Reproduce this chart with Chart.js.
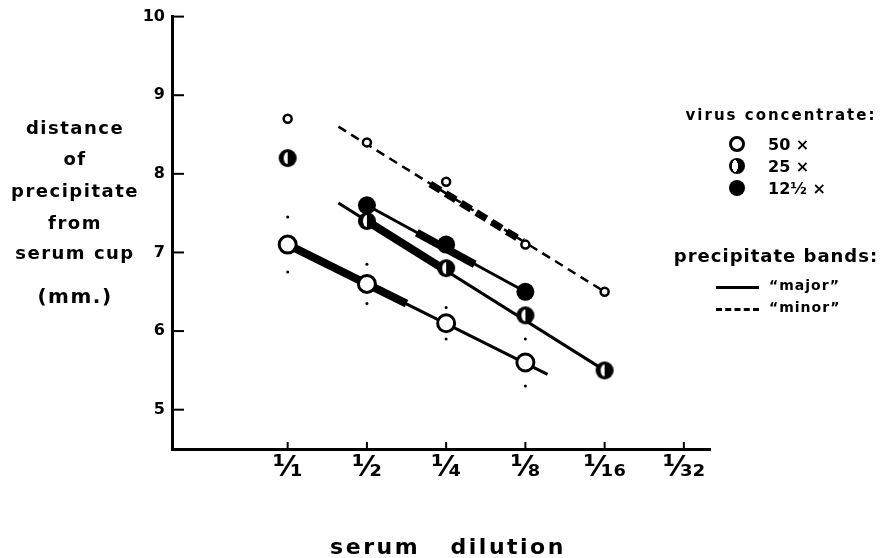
<!DOCTYPE html>
<html>
<head>
<meta charset="utf-8">
<script src="https://cdn.jsdelivr.net/npm/chart.js@4.4.1/dist/chart.umd.min.js"></script>
<style>
  body { margin: 0; background: #fff; }
  #wrap { position: relative; width: 883px; height: 558px; font-family: "DejaVu Sans", sans-serif; font-weight: bold; color: #000; }
  canvas { position: absolute; left: 0; top: 0; }
  .t { position: absolute; white-space: nowrap; transform: translate(-50%, -50%); }
  .l { position: absolute; white-space: nowrap; transform: translateY(-50%); }
  .ylab { font-size: 18px; letter-spacing: 1.5px; }
  .sym { position: absolute; width: 16px; height: 16px; border-radius: 50%; box-sizing: border-box; transform: translate(-50%, -50%); }
</style>
</head>
<body>
<div id="wrap">
  <canvas id="chart" width="883" height="558"></canvas>

  <div class="t ylab" style="left:75px;top:127px">distance</div>
  <div class="t ylab" style="left:75px;top:158px">of</div>
  <div class="t ylab" style="left:75px;top:190px">precipitate</div>
  <div class="t ylab" style="left:75px;top:222px">from</div>
  <div class="t ylab" style="left:75px;top:252px">serum cup</div>
  <div class="t ylab" style="left:75px;top:296px;font-size:20px">(mm.)</div>

  <div class="t" style="left:781px;top:115px;font-size:15px;letter-spacing:2px">virus concentrate:</div>
  <div class="sym" style="left:737px;top:144px;border:3px solid #000;background:#fff"></div>
  <div class="sym" style="left:737px;top:166px;background:radial-gradient(ellipse 3px 6px at 6px 8px,#fff 98%,transparent 100%),#000"></div>
  <div class="sym" style="left:737px;top:188px;background:#000"></div>
  <div class="l" style="left:768px;top:144px;font-size:16px">50 ×</div>
  <div class="l" style="left:768px;top:166px;font-size:16px">25 ×</div>
  <div class="l" style="left:768px;top:188px;font-size:16px">12½ ×</div>

  <div class="t" style="left:776px;top:255px;font-size:18px;letter-spacing:1px">precipitate bands:</div>
  <div style="position:absolute;left:716px;top:286px;width:43px;height:3px;background:#000"></div>
  <div style="position:absolute;left:716px;top:308px;width:43px;height:0;border-top:3px dashed #000"></div>
  <div class="l" style="left:769px;top:285px;font-size:14px;letter-spacing:1px">“major”</div>
  <div class="l" style="left:769px;top:307px;font-size:14px;letter-spacing:1px">“minor”</div>

  <div class="t" style="left:448px;top:546px;font-size:22px;letter-spacing:2.5px">serum&nbsp;&nbsp;&nbsp;dilution</div>
</div>
<script>
// x positions are dilution steps: 0 = 1/1, 1 = 1/2, ... 5 = 1/32
const xTickValues = [0, 1, 2, 3, 4, 5];
const xTickLabels = ["¹⁄₁", "¹⁄₂", "¹⁄₄", "¹⁄₈", "¹⁄₁₆", "¹⁄₃₂"];
const yTickValues = [5, 6, 7, 8, 9, 10];

// 50x concentrate (open circles), major band, with the small range dots
const x50 = [0, 1, 2, 3];
const y50 = [7.1, 6.6, 6.1, 5.6];
const y50High = [7.45, 6.85, 6.3, 5.9];
const y50Low = [6.75, 6.35, 5.9, 5.3];

// 25x concentrate (half circles)
const x25 = [0, 1, 2, 3, 4];
const y25 = [8.2, 7.4, 6.8, 6.2, 5.5];

// 12 1/2 x concentrate (filled circles)
const x12 = [1, 2, 3];
const y12 = [7.6, 7.1, 6.5];

// minor band points (small open circles)
const xMinor = [0, 1, 2, 3, 4];
const yMinor = [8.7, 8.4, 7.9, 7.1, 6.5];

// fitted band lines, [x, y] ends
const line50 = [[0, 7.1], [3.28, 5.45]];
const heavy50 = [[0, 7.1], [1.5, 6.35]];
const line25 = [[0.64, 7.63], [4, 5.5]];
const heavy25 = [[1, 7.4], [2, 6.77]];
const line12 = [[1, 7.6], [3, 6.5]];
const heavy12 = [[1.63, 7.25], [2.36, 6.85]];
const lineMinor = [[0.64, 8.6], [4, 6.5]];
const heavyMinor = [[1.8, 7.87], [2.97, 7.14]];

const pts = (xs, ys) => xs.map((x, i) => ({ x: x, y: ys[i] }));
const seg = (s) => s.map(([x, y]) => ({ x: x, y: y }));

// half-filled marker: black disc with a white sliver left of centre
const half = document.createElement("canvas");
half.width = 20; half.height = 20;
(function () {
  const c = half.getContext("2d");
  c.fillStyle = "#000";
  c.beginPath(); c.arc(10, 10, 9, 0, Math.PI * 2); c.fill();
  c.fillStyle = "#fff";
  c.beginPath(); c.ellipse(10, 10, 4, 6, 0, Math.PI / 2, Math.PI * 1.5); c.closePath(); c.fill();
})();

function lineDs(data, width, dash) {
  return {
    data: data, showLine: true, borderColor: "#000", borderWidth: width,
    borderDash: dash || [], borderCapStyle: "butt", pointRadius: 0, order: 2,
  };
}
function pointDs(data, style, radius, fill, border) {
  return {
    data: data, showLine: false, pointStyle: style, pointRadius: radius,
    pointBackgroundColor: fill, pointBorderColor: "#000", pointBorderWidth: border, order: 1,
  };
}

const innerTicks = {
  id: "innerTicks",
  afterDraw(chart) {
    const { ctx, chartArea: a, scales } = chart;
    ctx.save();
    ctx.strokeStyle = "#000";
    ctx.lineWidth = 2;
    yTickValues.forEach((v) => {
      const py = scales.y.getPixelForValue(v);
      ctx.beginPath(); ctx.moveTo(a.left, py); ctx.lineTo(a.left + 12, py); ctx.stroke();
    });
    xTickValues.forEach((v) => {
      const px = scales.x.getPixelForValue(v);
      ctx.beginPath(); ctx.moveTo(px, a.bottom); ctx.lineTo(px, a.bottom - 7); ctx.stroke();
    });
    ctx.restore();
  },
};

new Chart(document.getElementById("chart"), {
  type: "scatter",
  data: {
    datasets: [
      pointDs(pts(x50, y50), "circle", 8.5, "#fff", 3),
      pointDs(pts(x25, y25), half, 9, "#000", 0),
      pointDs(pts(x12, y12), "circle", 9, "#000", 0),
      pointDs(pts(xMinor, yMinor), "circle", 4, "#fff", 2.5),
      pointDs(pts(x50, y50High), "circle", 1.5, "#000", 0),
      pointDs(pts(x50, y50Low), "circle", 1.5, "#000", 0),
      lineDs(seg(line50), 3),
      lineDs(seg(heavy50), 8),
      lineDs(seg(line25), 3),
      lineDs(seg(heavy25), 8),
      lineDs(seg(line12), 3),
      lineDs(seg(heavy12), 8),
      lineDs(seg(lineMinor), 2.5, [9, 6]),
      lineDs(seg(heavyMinor), 7, [12, 6]),
    ],
  },
  options: {
    responsive: false,
    animation: false,
    layout: { padding: { top: 12, right: 173, left: 0, bottom: 0 } },
    plugins: { legend: { display: false }, tooltip: { enabled: false } },
    scales: {
      x: {
        type: "linear",
        min: -1.46,
        max: 5.33,
        afterBuildTicks: (s) => { s.ticks = xTickValues.map((v) => ({ value: v })); },
        afterFit: (s) => { s.height = 109; },
        ticks: {
          callback: (v) => xTickLabels[v],
          color: "#000",
          font: { family: "DejaVu Sans", size: 29, weight: "bold" },
          padding: 2,
          autoSkip: false,
          maxRotation: 0,
        },
        grid: { display: false, drawTicks: false },
        border: { color: "#000", width: 3 },
      },
      y: {
        min: 4.5,
        max: 10,
        afterBuildTicks: (s) => { s.ticks = yTickValues.map((v) => ({ value: v })); },
        afterFit: (s) => { s.width = 172; },
        ticks: {
          color: "#000",
          font: { family: "DejaVu Sans", size: 16, weight: "bold" },
          padding: 7,
        },
        grid: { display: false, drawTicks: false },
        border: { color: "#000", width: 3 },
      },
    },
  },
  plugins: [innerTicks],
});
</script>
</body>
</html>
